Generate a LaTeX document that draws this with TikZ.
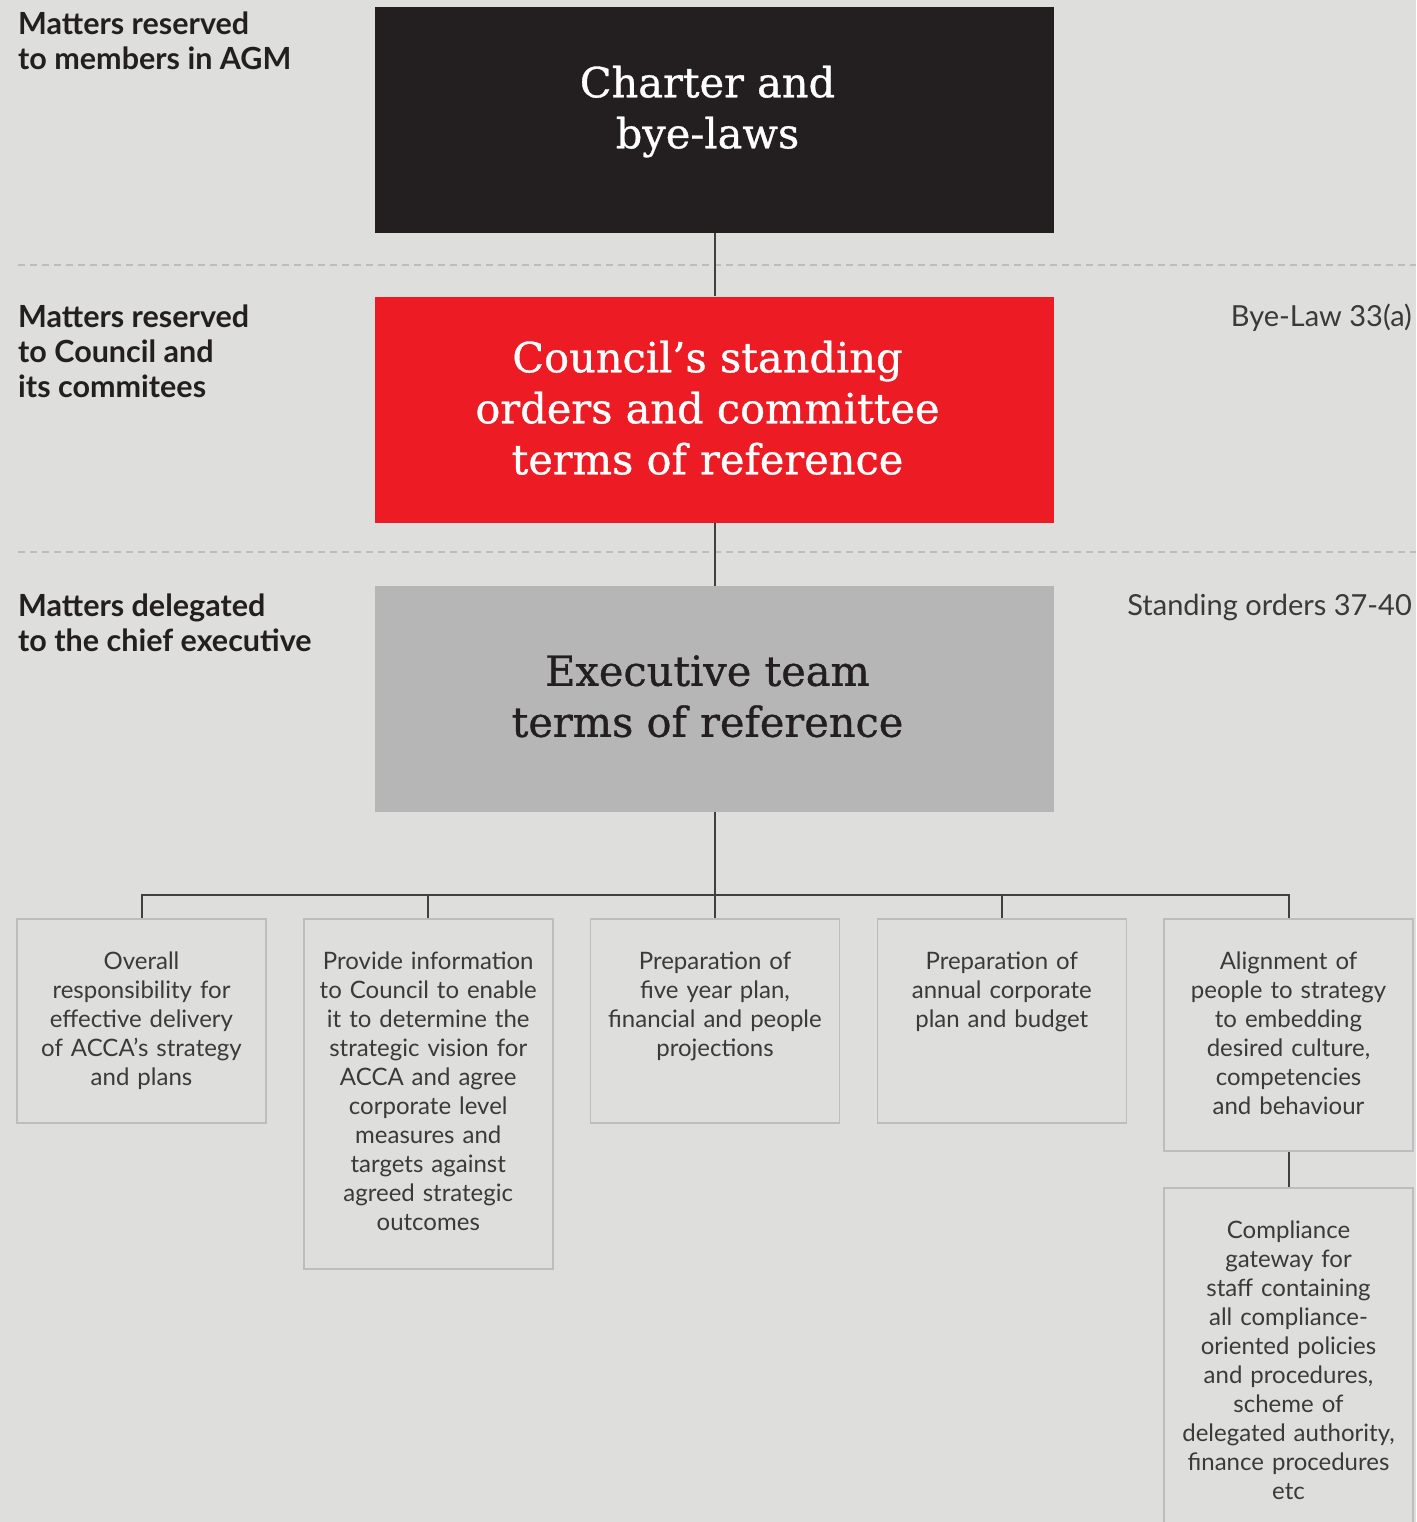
\documentclass[tikz,border=0pt]{standalone}
\usepackage{fontspec}
\setmainfont{Lato}
\newfontfamily\headfont[FakeBold=0.8]{DejaVu Serif}

\definecolor{paper}{HTML}{DEDEDC}
\definecolor{tierblack}{HTML}{231F20}
\definecolor{tierred}{HTML}{ED1C24}
\definecolor{tiergrey}{HTML}{B6B6B6}
\definecolor{ink}{HTML}{231F20}
\definecolor{taskline}{HTML}{BDBDBD}
\definecolor{tasktext}{HTML}{3A3A3A}
\definecolor{linkgrey}{HTML}{404040}

\tikzset{
  tier/.style={minimum width=679pt, minimum height=226pt, inner sep=0pt},
  title/.style={align=center, inner sep=0pt,
    font=\headfont\fontsize{41.5}{51}\selectfont},
  task/.style={draw=taskline, line width=1.5pt, anchor=north,
    text width=229pt, inner xsep=10pt, inner ysep=33pt, text height=18pt,
    align=center, text=tasktext, font=\fontsize{24}{29}\selectfont},
  link/.style={draw=linkgrey, line width=2pt},
  divider/.style={draw=taskline, line width=1.5pt, dash pattern=on 7pt off 5pt},
  side label/.style={anchor=base west, align=left, inner sep=0pt, text=ink,
    font=\bfseries\fontsize{30.5}{35}\selectfont},
  ref label/.style={anchor=base east, inner sep=0pt, text=tasktext,
    font=\fontsize{29}{35}\selectfont}
}

\begin{document}
\begin{tikzpicture}[x=1pt, y=-1pt]

\useasboundingbox (0,0) rectangle (1416,1522);
\fill [paper] (0,0) rectangle (1416,1522);
\clip (0,0) rectangle (1416,1522);

\foreach \y in {265,552}
  \draw [divider] (18,\y) -- (1416,\y);

\foreach \c/\f/\d/\t [count=\y] in {
    tierblack/white/26/{Charter and\\bye-laws},
    tierred/white/4/{Council’s standing\\orders and committee\\terms of reference},
    tiergrey/ink/6/{Executive team\\terms of reference}}
{
  \node [tier, fill=\c] (tier-\y) at (714.5,120+289.5*\y-289.5) {};
  \node [title, text=\f, text depth=\d pt] (title-\y) at ([xshift=-7pt]tier-\y.center) {\t};
}

\foreach \i/\j in {1/2,2/3}
  \draw [link] (tier-\i) -- (tier-\j);

\foreach \t/\b [count=\i] in {
    {Matters reserved\\to members in AGM}/70,
    {Matters reserved\\to Council and\\its commitees}/397,
    {Matters delegated\\to the chief executive}/651}
  \node [side label] (side-\i) at (18,\b) {\t};

\node [ref label] (ref-1) at (1412,326) {Bye-Law 33(a)};
\node [ref label] (ref-2) at (1412,615) {Standing orders 37-40};

\foreach \t/\d [count=\i] in {
    {Overall\\responsibility for\\effective delivery\\of ACCA’s strategy\\and plans}/120,
    {Provide information\\to Council to enable\\it to determine the\\strategic vision for\\ACCA and agree\\corporate level\\measures and\\targets against\\agreed strategic\\outcomes}/266,
    {Preparation of\\five year plan,\\financial and people\\projections}/120,
    {Preparation of\\annual corporate\\plan and budget}/120,
    {Alignment of\\people to strategy\\to embedding\\desired culture,\\competencies\\and behaviour}/148}
  \node [task, text depth=\d pt] (task-\i) at (141.5+286.75*\i-286.75,918) {\t};

\node [task, text depth=300pt] (comply) at (1288.5,1187)
  {Compliance\\gateway for\\staff containing\\all compliance-\\oriented policies\\and procedures,\\scheme of\\delegated authority,\\finance procedures\\etc};

\foreach \i in {1,...,5}
  \draw [link] (tier-3.south) -- ++(0,83) -| (task-\i.north);

\draw [link] (task-5) -- (comply);

\end{tikzpicture}
\end{document}
